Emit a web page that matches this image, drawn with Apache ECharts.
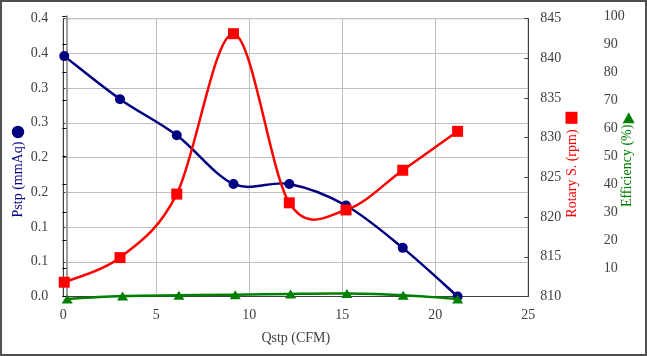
<!DOCTYPE html>
<html>
<head>
<meta charset="utf-8">
<script src="https://cdn.jsdelivr.net/npm/echarts@6/dist/echarts.min.js"></script>
<style>
html,body{margin:0;padding:0;background:#fff;}
#c{width:647px;height:356px;}
</style>
</head>
<body>
<div id="c"></div>
<script>
// Data
const qstp = [0.05, 3.05, 6.1, 9.15, 12.15, 15.2, 18.25, 21.2];
const pstp = [0.346, 0.284, 0.232, 0.162, 0.162, 0.131, 0.070, 0.0];
const rotarySpeed = [811.8, 814.9, 822.9, 843.1, 821.8, 820.9, 825.9, 830.8];
const efficiency = [-0.8, 0.25, 0.5, 0.7, 1.0, 1.1, 0.5, -0.8];
const pstpTickLabels = ['0.0', '0.1', '0.1', '0.2', '0.2', '0.3', '0.3', '0.4', '0.4'];

const FONT = "'Liberation Serif', 'Times New Roman', serif";
const LABEL = '#404040';
const NAVY = '#000080';
const RED = '#ff0000';
const GREEN = '#008000';

const pairs = (xs, ys) => xs.map((x, i) => [x, ys[i]]);

// Smoothed curve (Catmull-Rom style, like a spreadsheet's smoothed line), built from axis coordinates
function smoothCurve(xs, ys, color, width) {
  return function (params, api) {
    if (params.dataIndex !== 0) return null;
    const p = xs.map((x, i) => api.coord([x, ys[i]]));
    const n = p.length;
    const children = [];
    for (let i = 0; i < n - 1; i++) {
      const p0 = p[i - 1] || p[i], p1 = p[i], p2 = p[i + 1], p3 = p[i + 2] || p[i + 1];
      children.push({
        type: 'bezierCurve',
        shape: {
          x1: p1[0], y1: p1[1], x2: p2[0], y2: p2[1],
          cpx1: p1[0] + (p2[0] - p0[0]) / 6, cpy1: p1[1] + (p2[1] - p0[1]) / 6,
          cpx2: p2[0] - (p3[0] - p1[0]) / 6, cpy2: p2[1] - (p3[1] - p1[1]) / 6
        },
        style: {stroke: color, lineWidth: width, fill: null, lineCap: 'round'}
      });
    }
    return {type: 'group', children: children};
  };
}

const chart = echarts.init(document.getElementById('c'), null, {renderer: 'canvas'});
chart.setOption({
  animation: false,
  backgroundColor: '#fff',
  textStyle: {fontFamily: FONT},
  grid: [
    {left: 63.3, right: 118.7, top: 18.6, bottom: 59.5, show: true, borderColor: '#404040', borderWidth: 1},
    {left: 66.3, right: 119.2, top: 16, bottom: 59.3, show: false}
  ],
  xAxis: [
    {
      type: 'value', gridIndex: 0, min: 0, max: 25, interval: 5,
      name: 'Qstp (CFM)', nameLocation: 'middle', nameGap: 35,
      nameTextStyle: {color: LABEL, fontSize: 14, fontFamily: FONT},
      axisLine: {show: true, lineStyle: {color: '#404040', width: 1}},
      axisTick: {show: false},
      axisLabel: {color: LABEL, fontSize: 14, fontFamily: FONT, margin: 12},
      splitLine: {show: true, lineStyle: {color: '#c0c0c0', width: 1}}
    },
    {type: 'value', gridIndex: 1, min: 0, max: 25, show: false}
  ],
  yAxis: [
    {
      type: 'value', gridIndex: 0, position: 'left', min: 0, max: 0.4, interval: 0.05,
      name: 'Pstp (mmAq)', nameLocation: 'middle', nameRotate: 90, nameGap: 38,
      nameMoveOverlap: false,
      nameTextStyle: {color: NAVY, fontSize: 14, fontFamily: FONT, padding: [0, 44, 0, 0]},
      axisLine: {show: true, lineStyle: {color: '#404040', width: 1}},
      axisTick: {show: true, inside: true, length: 2, lineStyle: {color: '#404040'}},
      axisLabel: {
        color: LABEL, fontSize: 14, fontFamily: FONT, margin: 15,
        formatter: v => pstpTickLabels[Math.round(v / 0.05)]
      },
      splitLine: {show: true, lineStyle: {color: '#c0c0c0', width: 1}}
    },
    {
      type: 'value', gridIndex: 0, position: 'right', min: 810, max: 845, interval: 5,
      name: 'Rotary S. (rpm)', nameLocation: 'middle', nameRotate: 90, nameGap: 37,
      nameMoveOverlap: false,
      nameTextStyle: {color: RED, fontSize: 14, fontFamily: FONT, padding: [0, 32, 0, 0]},
      axisLine: {show: true, lineStyle: {color: '#404040', width: 1}},
      axisTick: {show: true, inside: true, length: 4, lineStyle: {color: '#404040'}},
      axisLabel: {color: LABEL, fontSize: 14, fontFamily: FONT, margin: 12},
      splitLine: {show: false}
    },
    {
      type: 'value', gridIndex: 1, position: 'right', offset: 65, min: 0, max: 100, interval: 10,
      name: 'Efficiency (%)', nameLocation: 'middle', nameRotate: 90, nameGap: 28,
      nameMoveOverlap: false,
      nameTextStyle: {color: GREEN, fontSize: 14, fontFamily: FONT, padding: [0, 19, 0, 0]},
      axisLine: {show: true, lineStyle: {color: '#808080', width: 1.5}},
      axisTick: {show: true, inside: true, length: 4, lineStyle: {color: '#000000'}},
      axisLabel: {
        color: LABEL, fontSize: 14, fontFamily: FONT, margin: 11,
        formatter: v => (v === 0 ? '' : String(v))
      },
      splitLine: {show: false}
    }
  ],
  series: [
    {
      name: 'Pstp curve', type: 'custom', xAxisIndex: 0, yAxisIndex: 0,
      data: [[qstp[0], pstp[0]]], renderItem: smoothCurve(qstp, pstp, NAVY, 2.5), z: 2, silent: true
    },
    {
      name: 'Pstp', type: 'scatter', xAxisIndex: 0, yAxisIndex: 0, clip: false,
      data: pairs(qstp, pstp), symbol: 'circle', symbolSize: 10,
      itemStyle: {color: NAVY, opacity: 1}, z: 3
    },
    {
      name: 'Rotary S. curve', type: 'custom', xAxisIndex: 0, yAxisIndex: 1,
      data: [[qstp[0], rotarySpeed[0]]], renderItem: smoothCurve(qstp, rotarySpeed, RED, 2.5), z: 4, silent: true
    },
    {
      name: 'Rotary S.', type: 'scatter', xAxisIndex: 0, yAxisIndex: 1, clip: false,
      data: pairs(qstp, rotarySpeed), symbol: 'rect', symbolSize: 11,
      itemStyle: {color: RED, opacity: 1}, z: 5
    },
    {
      name: 'Efficiency curve', type: 'custom', xAxisIndex: 1, yAxisIndex: 2,
      data: [[qstp[0], efficiency[0]]], renderItem: smoothCurve(qstp, efficiency, GREEN, 2.5), z: 6, silent: true
    },
    {
      name: 'Efficiency', type: 'scatter', xAxisIndex: 1, yAxisIndex: 2, clip: false,
      data: pairs(qstp, efficiency), symbol: 'triangle', symbolSize: [11, 9],
      itemStyle: {color: GREEN, opacity: 1}, z: 7
    }
  ],
  graphic: [
    {type: 'rect', shape: {x: 1, y: 1, width: 645, height: 354}, style: {fill: 'none', stroke: '#505050', lineWidth: 2}, silent: true, z: 100},
    {type: 'circle', shape: {cx: 18, cy: 132, r: 6.2}, style: {fill: NAVY}, silent: true},
    {type: 'rect', shape: {x: 565.5, y: 111.8, width: 12, height: 12}, style: {fill: RED}, silent: true},
    {type: 'polygon', shape: {points: [[628.7, 112.3], [634.7, 123.3], [622.7, 123.3]]}, style: {fill: GREEN}, silent: true}
  ]
});
</script>
</body>
</html>
